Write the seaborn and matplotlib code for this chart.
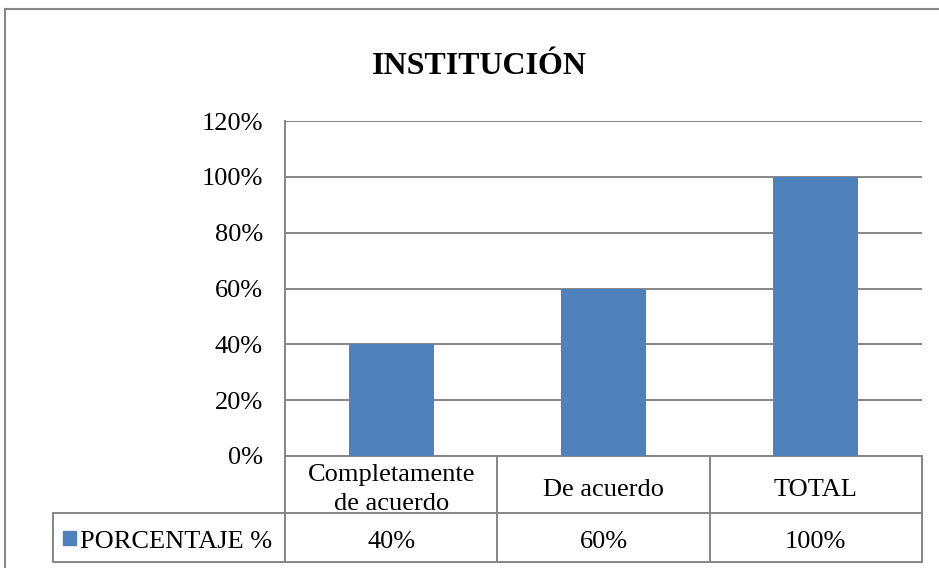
import matplotlib
matplotlib.use("Agg")
import matplotlib.pyplot as plt
import seaborn as sns
from matplotlib.patches import Rectangle
from matplotlib.ticker import FuncFormatter

categories = ["Completamente\nde acuerdo", "De acuerdo", "TOTAL"]
values = [0.40, 0.60, 1.00]
value_labels = ["40%", "60%", "100%"]
series_name = "PORCENTAJE %"
yticks = [0, 0.2, 0.4, 0.6, 0.8, 1.0, 1.2]

sns.set_style("white")
plt.rcParams["font.family"] = ["Liberation Serif", "DejaVu Serif"]
plt.rcParams["text.color"] = "black"
plt.rcParams["ytick.color"] = "black"

bar_color = "#4F81BD"
line_color = "#868686"
W, H = 939, 568
fs = 19

fig = plt.figure(figsize=(W / 100, H / 100), dpi=100)
fig.patch.set_facecolor("white")

# axes placed in pixel terms
left, right, top, bottom = 285, 922, 121, 456
ax = fig.add_axes([left / W, 1 - bottom / H, (right - left) / W, (bottom - top) / H])

sns.barplot(x=list(range(len(values))), y=values, color=bar_color, width=0.4,
            saturation=1, linewidth=0, ax=ax, zorder=3)
ax.set_xlim(-0.5, len(values) - 0.5)
ax.set_ylim(0, 1.2)
ax.set_yticks(yticks)
ax.yaxis.set_major_formatter(FuncFormatter(lambda v, p: f"{v*100:.0f}%"))
ax.tick_params(axis="y", length=0, pad=16, labelsize=fs, labelcolor="black")
ax.set_xticks([])
ax.set_xlabel("")
ax.grid(axis="y", color=line_color, linewidth=1.4, zorder=0)
for s in ["top", "right"]:
    ax.spines[s].set_visible(False)
for s in ["left", "bottom"]:
    ax.spines[s].set_color(line_color)
    ax.spines[s].set_linewidth(1.4)

# data table under the axis
tr = ax.get_xaxis_transform()
ax_h = bottom - top
h1 = 57 / ax_h
h2 = 49 / ax_h
off = 5 / ax_h
cat_w = (right - left) / len(values)
x_lab = -0.5 - (left - 53) / cat_w
lkw = dict(color=line_color, linewidth=1.4, transform=tr, clip_on=False)
n = len(values)
for i in range(n + 1):
    ax.plot([i - 0.5, i - 0.5], [0, -(h1 + h2)], **lkw)
ax.plot([x_lab, n - 0.5], [-h1, -h1], **lkw)
ax.plot([x_lab, n - 0.5], [-(h1 + h2), -(h1 + h2)], **lkw)
ax.plot([x_lab, x_lab], [-h1, -(h1 + h2)], **lkw)

for i, (c, v) in enumerate(zip(categories, value_labels)):
    ax.text(i, -h1 / 2 - off, c, transform=tr, ha="center", va="center",
            fontsize=fs, linespacing=1.45)
    ax.text(i, -h1 - h2 / 2 - off, v, transform=tr, ha="center", va="center",
            fontsize=fs)

key_x = x_lab + 10 / cat_w
ax.add_patch(Rectangle((key_x, -h1 - h2 / 2 - 7 / ax_h), 13 / cat_w, 14 / ax_h,
                       transform=tr, color=bar_color, clip_on=False))
ax.text(key_x + 17 / cat_w, -h1 - h2 / 2 - off, series_name, transform=tr,
        ha="left", va="center", fontsize=fs)

# title and outer frame
fig.text(479 / W, 1 - 66 / H, "INSTITUCIÓN", ha="center", va="center",
         fontsize=23, fontweight="bold")
fig.add_artist(Rectangle((5 / W, -0.1), 1.2, 1.1 - 9 / H, transform=fig.transFigure,
                         fill=False, edgecolor=line_color, linewidth=1.5))

fig.savefig("out.png", dpi=100, facecolor="white")
